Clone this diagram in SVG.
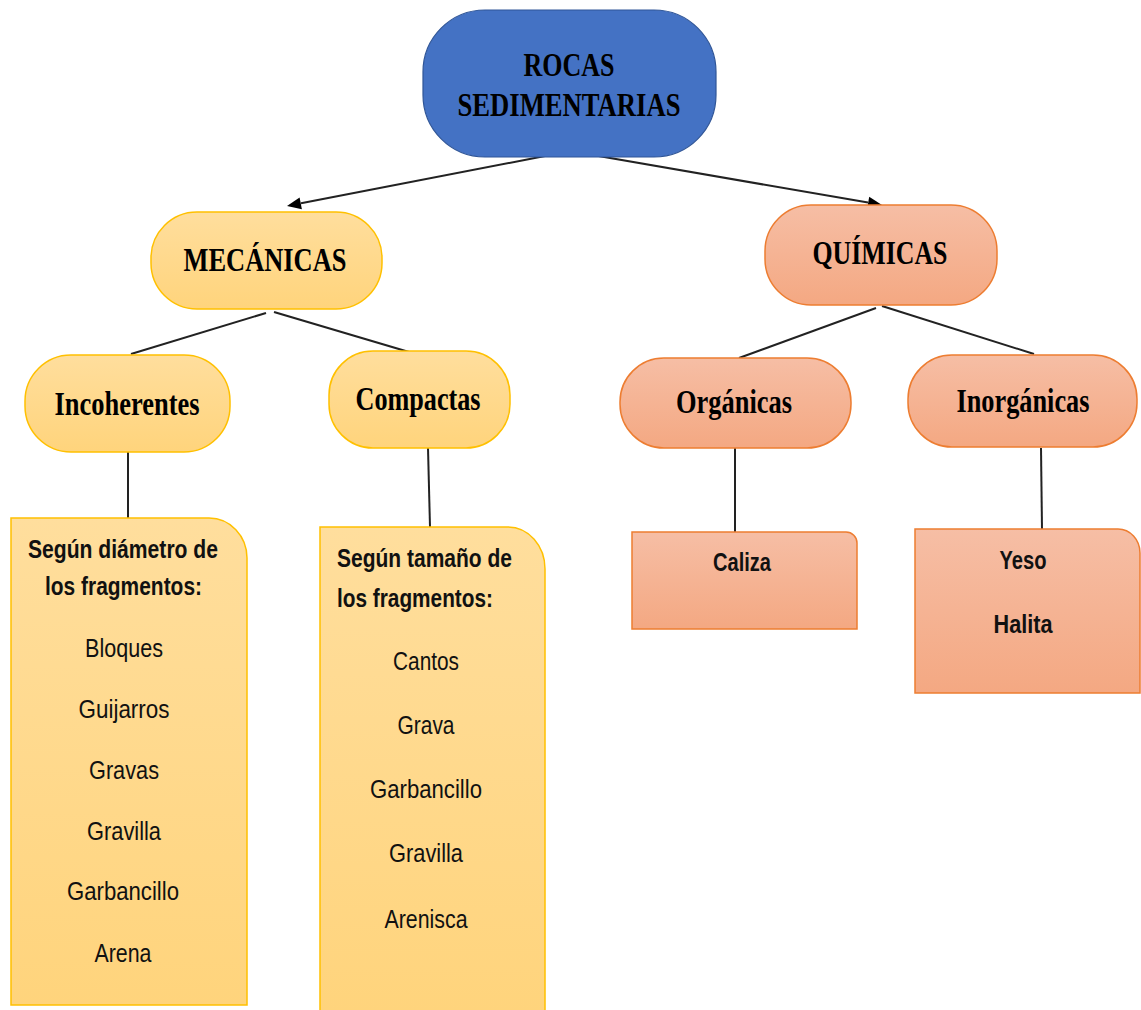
<svg xmlns="http://www.w3.org/2000/svg" width="1141" height="1010" viewBox="0 0 1141 1010">
<defs>
<linearGradient id="gY" x1="0" y1="0" x2="0" y2="1"><stop offset="0" stop-color="#FFDE9D"/><stop offset="1" stop-color="#FFD47C"/></linearGradient>
<linearGradient id="gO" x1="0" y1="0" x2="0" y2="1"><stop offset="0" stop-color="#F6BEA5"/><stop offset="1" stop-color="#F4A882"/></linearGradient>
<style>
.blue{fill:#4472C4;stroke:#2F5597;stroke-width:1.2}
.yel{fill:url(#gY);stroke:#FFC000;stroke-width:1.5}
.org{fill:url(#gO);stroke:#ED7D31;stroke-width:1.5}
.h{font-family:"Liberation Serif","Times New Roman",serif;font-weight:bold;fill:#000;text-anchor:middle}
.l{font-family:"Liberation Sans",Arial,sans-serif;fill:#111;text-anchor:middle;font-size:25px}
.lb{font-family:"Liberation Sans",Arial,sans-serif;font-weight:bold;fill:#111;font-size:25px}
.c{stroke:#222;stroke-width:2;fill:none}
.ah{fill:#000;stroke:none}
</style>
</defs>
<rect width="1141" height="1010" fill="#fff"/>

<g id="connectors">
<line class="c" x1="545" y1="156" x2="301" y2="203.3"/>
<polygon class="ah" points="287,206 301.9,209.2 299.6,197.4"/>
<line class="c" x1="587" y1="154" x2="868" y2="202.6"/>
<polygon class="ah" points="882,205 867.2,208.5 869.2,196.7"/>
<line class="c" x1="266" y1="313" x2="131" y2="354"/>
<line class="c" x1="274" y1="312" x2="409" y2="352"/>
<line class="c" x1="876" y1="308" x2="739" y2="358"/>
<line class="c" x1="882" y1="306" x2="1034" y2="354"/>
<line class="c" x1="128" y1="452" x2="128" y2="518"/>
<line class="c" x1="428" y1="448" x2="430" y2="527"/>
<line class="c" x1="735" y1="448" x2="735" y2="532"/>
<line class="c" x1="1041" y1="448" x2="1042" y2="529"/>
</g>

<g id="rocas">
<rect class="blue" x="423" y="10" width="293" height="147" rx="62" ry="62"/>
<text class="h" x="569" y="76" font-size="33" textLength="91" lengthAdjust="spacingAndGlyphs">ROCAS</text>
<text class="h" x="569" y="116" font-size="33" textLength="223" lengthAdjust="spacingAndGlyphs">SEDIMENTARIAS</text>
</g>

<g id="mecanicas">
<rect class="yel" x="151" y="212" width="231" height="97" rx="46" ry="46"/>
<text class="h" x="265" y="271" font-size="33" textLength="163" lengthAdjust="spacingAndGlyphs">MECÁNICAS</text>
</g>

<g id="quimicas">
<rect class="org" x="765" y="205" width="232" height="100" rx="46" ry="46"/>
<text class="h" x="880" y="264" font-size="33" textLength="135" lengthAdjust="spacingAndGlyphs">QUÍMICAS</text>
</g>

<g id="incoherentes">
<rect class="yel" x="25" y="355" width="205" height="97" rx="46" ry="46"/>
<text class="h" x="127" y="415" font-size="33" textLength="145" lengthAdjust="spacingAndGlyphs">Incoherentes</text>
</g>

<g id="compactas">
<rect class="yel" x="329" y="351" width="181" height="97" rx="44" ry="44"/>
<text class="h" x="418" y="410" font-size="33" textLength="125" lengthAdjust="spacingAndGlyphs">Compactas</text>
</g>

<g id="organicas">
<rect class="org" x="620" y="358" width="231" height="90" rx="44" ry="44"/>
<text class="h" x="734" y="413" font-size="33" textLength="116" lengthAdjust="spacingAndGlyphs">Orgánicas</text>
</g>

<g id="inorganicas">
<rect class="org" x="908" y="355" width="229" height="92" rx="44" ry="44"/>
<text class="h" x="1023" y="412" font-size="33" textLength="133" lengthAdjust="spacingAndGlyphs">Inorgánicas</text>
</g>

<g id="lista-incoherentes">
<path class="yel" d="M11,518 H209 A38,40 0 0 1 247,558 V1005 H11 Z"/>
<text class="lb" x="28" y="558" textLength="190" lengthAdjust="spacingAndGlyphs">Según diámetro de</text>
<text class="lb" x="45" y="595" textLength="157" lengthAdjust="spacingAndGlyphs">los fragmentos:</text>
<text class="l" x="124" y="657" textLength="78" lengthAdjust="spacingAndGlyphs">Bloques</text>
<text class="l" x="124" y="718" textLength="91" lengthAdjust="spacingAndGlyphs">Guijarros</text>
<text class="l" x="124" y="779" textLength="70" lengthAdjust="spacingAndGlyphs">Gravas</text>
<text class="l" x="124" y="840" textLength="74" lengthAdjust="spacingAndGlyphs">Gravilla</text>
<text class="l" x="123" y="900" textLength="112" lengthAdjust="spacingAndGlyphs">Garbancillo</text>
<text class="l" x="123" y="962" textLength="57" lengthAdjust="spacingAndGlyphs">Arena</text>
</g>

<g id="lista-compactas">
<path class="yel" d="M320,527 H508 A37,42 0 0 1 545,569 V1012 H320 Z"/>
<text class="lb" x="337" y="567" textLength="175" lengthAdjust="spacingAndGlyphs">Según tamaño de</text>
<text class="lb" x="337" y="607" textLength="156" lengthAdjust="spacingAndGlyphs">los fragmentos:</text>
<text class="l" x="426" y="670" textLength="66" lengthAdjust="spacingAndGlyphs">Cantos</text>
<text class="l" x="426" y="734" textLength="57" lengthAdjust="spacingAndGlyphs">Grava</text>
<text class="l" x="426" y="798" textLength="112" lengthAdjust="spacingAndGlyphs">Garbancillo</text>
<text class="l" x="426" y="862" textLength="74" lengthAdjust="spacingAndGlyphs">Gravilla</text>
<text class="l" x="426" y="928" textLength="83" lengthAdjust="spacingAndGlyphs">Arenisca</text>
</g>

<g id="caliza">
<path class="org" d="M632,532 H846 A11,11 0 0 1 857,543 V629 H632 Z"/>
<text class="lb" x="742" y="571" text-anchor="middle" textLength="58" lengthAdjust="spacingAndGlyphs">Caliza</text>
</g>

<g id="yeso-halita">
<path class="org" d="M915,529 H1118 A22,24 0 0 1 1140,553 V693 H915 Z"/>
<text class="lb" x="1023" y="569" text-anchor="middle" textLength="47" lengthAdjust="spacingAndGlyphs">Yeso</text>
<text class="lb" x="1023" y="633" text-anchor="middle" textLength="59" lengthAdjust="spacingAndGlyphs">Halita</text>
</g>
</svg>
